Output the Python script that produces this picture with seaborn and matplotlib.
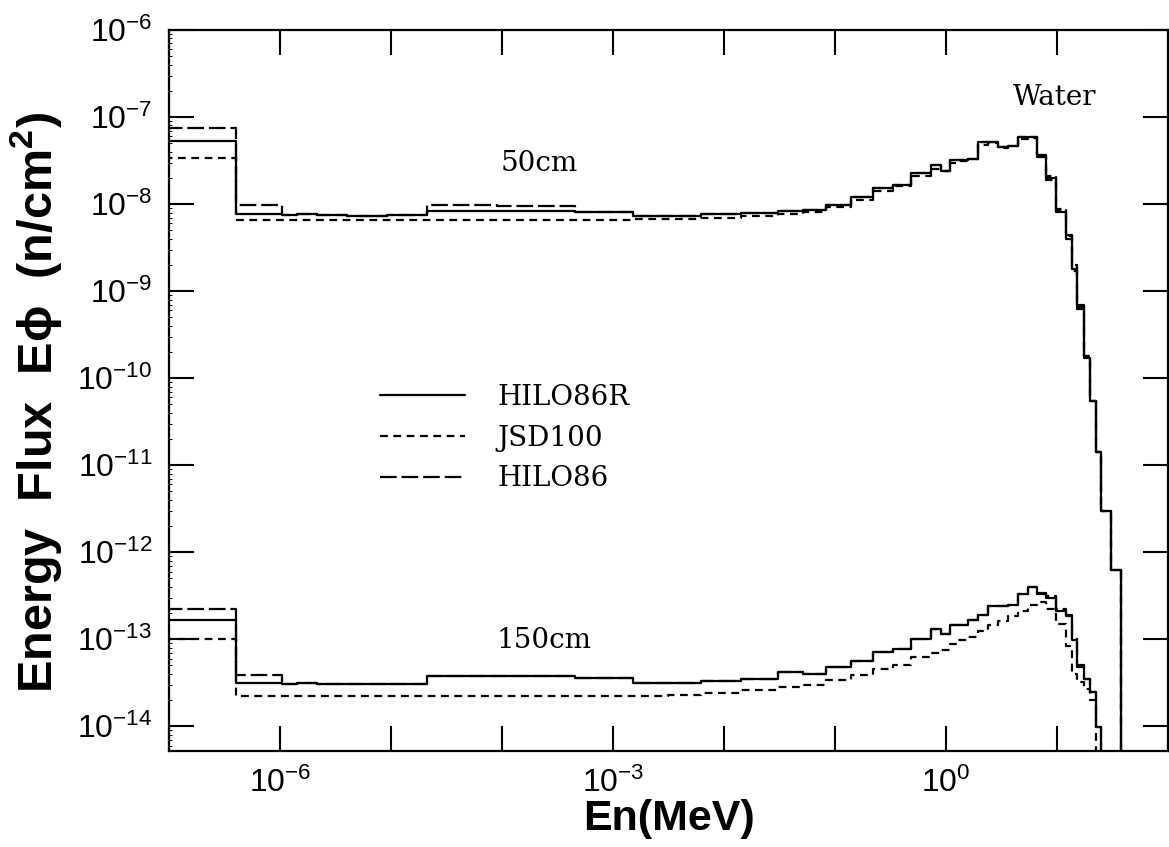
import numpy as np
import pandas as pd
import matplotlib
matplotlib.use("Agg")
import matplotlib.pyplot as plt
from matplotlib.lines import Line2D
from matplotlib.ticker import FixedLocator, FixedFormatter, LogLocator, NullFormatter
import seaborn as sns

# Energy group boundaries (MeV)
edges = [1e-8, 4.0e-7, 1.04e-6, 1.42e-6, 2.15e-6, 4.0e-6, 9.2e-6, 2.11e-5, 9.1e-5,
         4.5e-4, 1.5e-3, 3.1e-3, 6.15e-3, 1.41e-2, 3.05e-2, 5.12e-2, 8.26e-2,
         0.139, 0.219, 0.332, 0.483, 0.733, 0.901, 1.09, 1.28, 1.58, 1.94, 2.39,
         2.95, 3.63, 4.47, 5.50, 6.63, 8.0, 9.84, 12.1, 13.7, 15.2, 17.6, 19.9,
         22.6, 25.1, 27.8, 30.8, 37.5, 41.0]

# Group-wise energy flux at 50 cm depth in water (n/cm^2)
hilo86r_50 = [5.3e-8, 7.6e-9, 7.5e-9, 7.7e-9, 7.4e-9, 7.3e-9, 7.4e-9, 8.3e-9, 8.3e-9,
              8.1e-9, 7.2e-9, 7.2e-9, 7.6e-9, 7.9e-9, 8.3e-9, 8.6e-9, 9.75e-9,
              1.22e-8, 1.52e-8, 1.65e-8, 2.25e-8, 2.8e-8, 2.37e-8, 3.2e-8, 3.2e-8,
              3.3e-8, 5.2e-8, 5.2e-8, 4.55e-8, 4.6e-8, 5.9e-8, 5.9e-8, 3.5e-8,
              1.97e-8, 8.1e-9, 4.0e-9, 1.8e-9, 6.3e-10, 1.7e-10, 5.4e-11, 1.4e-11,
              3.0e-12, 3.0e-12, 6.2e-13, 0.0]
jsd100_50 = [3.4e-8, 6.6e-9, 6.6e-9, 6.6e-9, 6.6e-9, 6.6e-9, 6.6e-9, 6.6e-9, 6.6e-9,
             6.6e-9, 6.7e-9, 6.8e-9, 7.0e-9, 7.3e-9, 7.7e-9, 8.2e-9, 9.2e-9,
             1.1e-8, 1.4e-8, 1.6e-8, 2.1e-8, 2.5e-8, 2.4e-8, 3.0e-8, 3.1e-8,
             3.3e-8, 4.8e-8, 5.0e-8, 4.4e-8, 4.6e-8, 5.6e-8, 5.8e-8, 3.6e-8,
             1.9e-8, 8.3e-9, 4.3e-9, 1.7e-9, 6.6e-10, 1.8e-10, 5.4e-11, 1.4e-11,
             3.0e-12, 3.0e-12, 6.2e-13, 0.0]
hilo86_50 = [7.5e-8, 9.8e-9, 7.5e-9, 7.7e-9, 7.4e-9, 7.3e-9, 7.4e-9, 9.75e-9, 9.6e-9,
             8.1e-9, 7.2e-9, 7.2e-9, 7.6e-9, 7.9e-9, 8.3e-9, 8.6e-9, 9.75e-9,
             1.22e-8, 1.52e-8, 1.65e-8, 2.25e-8, 2.8e-8, 2.37e-8, 3.2e-8, 3.2e-8,
             3.3e-8, 5.2e-8, 5.2e-8, 4.55e-8, 4.6e-8, 5.9e-8, 5.9e-8, 3.7e-8,
             2.1e-8, 8.8e-9, 4.4e-9, 2.0e-9, 7.0e-10, 1.8e-10, 5.4e-11, 1.4e-11,
             3.0e-12, 3.0e-12, 6.2e-13, 0.0]

# Group-wise energy flux at 150 cm depth in water (n/cm^2)
hilo86r_150 = [1.66e-13, 3.12e-14, 3.1e-14, 3.15e-14, 3.1e-14, 3.1e-14, 3.1e-14, 3.76e-14,
               3.76e-14, 3.56e-14, 3.12e-14, 3.12e-14, 3.3e-14, 3.5e-14, 4.2e-14, 3.96e-14,
               4.77e-14, 5.6e-14, 7.1e-14, 7.7e-14, 1.0e-13, 1.3e-13, 1.14e-13, 1.45e-13,
               1.45e-13, 1.65e-13, 1.9e-13, 2.4e-13, 2.4e-13, 2.5e-13, 3.3e-13, 3.96e-13,
               3.3e-13, 3.0e-13, 2.1e-13, 1.84e-13, 9.9e-14, 4.8e-14, 3.5e-14, 2.46e-14,
               9.75e-15, 0.0, 0.0, 0.0, 0.0]
jsd100_150 = [1.0e-13, 2.2e-14, 2.2e-14, 2.2e-14, 2.2e-14, 2.2e-14, 2.2e-14, 2.2e-14,
              2.2e-14, 2.2e-14, 2.25e-14, 2.3e-14, 2.4e-14, 2.6e-14, 2.8e-14, 3.0e-14,
              3.4e-14, 3.9e-14, 4.5e-14, 5.1e-14, 6.2e-14, 7.0e-14, 7.6e-14, 8.8e-14,
              9.7e-14, 1.07e-13, 1.25e-13, 1.45e-13, 1.6e-13, 1.85e-13, 2.1e-13, 2.5e-13,
              2.7e-13, 2.2e-13, 1.5e-13, 8.3e-14, 4.0e-14, 3.2e-14, 2.7e-14, 2.0e-14,
              0.0, 0.0, 0.0, 0.0, 0.0]
hilo86_150 = [2.21e-13, 3.86e-14, 3.1e-14, 3.15e-14, 3.1e-14, 3.1e-14, 3.1e-14, 3.8e-14,
              3.8e-14, 3.56e-14, 3.12e-14, 3.12e-14, 3.3e-14, 3.5e-14, 4.2e-14, 3.96e-14,
              4.77e-14, 5.6e-14, 7.1e-14, 7.7e-14, 1.0e-13, 1.3e-13, 1.14e-13, 1.45e-13,
              1.45e-13, 1.65e-13, 1.9e-13, 2.4e-13, 2.4e-13, 2.5e-13, 3.3e-13, 3.96e-13,
              3.4e-13, 3.1e-13, 2.2e-13, 1.9e-13, 1.0e-13, 5.0e-14, 3.5e-14, 2.46e-14,
              9.75e-15, 0.0, 0.0, 0.0, 0.0]

codes = ["HILO86R", "JSD100", "HILO86"]
depth_labels = ["50cm", "150cm"]
series = {
    ("50cm", "HILO86R"): hilo86r_50,
    ("50cm", "JSD100"): jsd100_50,
    ("50cm", "HILO86"): hilo86_50,
    ("150cm", "HILO86R"): hilo86r_150,
    ("150cm", "JSD100"): jsd100_150,
    ("150cm", "HILO86"): hilo86_150,
}

# long-form table of step vertices (steps-post: one point per lower edge + closing edge);
# empty groups are pushed far below the axis so the curve drops off the plot
rows = []
for (depth, code), vals in series.items():
    ys = list(vals) + [vals[-1]]
    for e, v in zip(edges, ys):
        rows.append({"energy": e, "flux": v if v > 0 else 1e-30,
                     "depth": depth, "code": code})
df = pd.DataFrame(rows)

sns.set_theme(style="ticks")
plt.rcParams.update({
    "font.family": ["Liberation Sans", "DejaVu Sans"],
    "mathtext.fontset": "custom",
    "mathtext.rm": "Liberation Sans",
    "mathtext.it": "Liberation Sans:italic",
    "mathtext.bf": "Liberation Sans:bold",
    "axes.linewidth": 1.6,
    "axes.edgecolor": "black",
    "axes.labelcolor": "black",
    "text.color": "black",
    "xtick.color": "black",
    "ytick.color": "black",
})

line_styles = {
    "HILO86R": "-",
    "JSD100": (0, (3.5, 2.5)),
    "HILO86": (0, (7.5, 2.2)),
}

fig = plt.figure(figsize=(11.69, 8.47), dpi=100)
ax = fig.add_axes([169 / 1169, 1 - 751 / 847, (1168 - 169) / 1169, (751 - 30) / 847])
ax.set_xscale("log")
ax.set_yscale("log")

for depth in depth_labels:
    for code in ["JSD100", "HILO86", "HILO86R"]:
        sub = df[(df["depth"] == depth) & (df["code"] == code)]
        sns.lineplot(data=sub, x="energy", y="flux", ax=ax, estimator=None, sort=False,
                     drawstyle="steps-post", color="black", linewidth=1.6,
                     linestyle=line_styles[code], legend=False)

ax.set_xlim(1e-7, 1e2)
ax.set_ylim(5.2e-15, 1e-6)

# ticks: every decade, inward, on all four sides
xdec = list(range(-7, 3))
ax.xaxis.set_major_locator(FixedLocator([10.0 ** k for k in xdec]))
ax.xaxis.set_major_formatter(FixedFormatter(
    [r"$\mathregular{10^{%d}}$" % k if k in (-6, -3, 0) else "" for k in xdec]))
ax.xaxis.set_minor_locator(FixedLocator([]))
ydec = list(range(-14, -5))
ax.yaxis.set_major_locator(FixedLocator([10.0 ** k for k in ydec]))
ax.yaxis.set_major_formatter(FixedFormatter([r"$\mathregular{10^{%d}}$" % k for k in ydec]))
ax.yaxis.set_minor_locator(LogLocator(base=10, subs=np.arange(2, 10), numticks=30))
ax.yaxis.set_minor_formatter(NullFormatter())
ax.tick_params(axis="both", which="major", direction="in", length=18, width=1.5,
               top=True, right=True, labelsize=23, pad=12)
ax.tick_params(axis="y", which="minor", direction="in", length=2, width=0.7,
               left=True, right=False)

ax.set_xlabel("En(MeV)", fontsize=31, fontweight="bold", va="top")
ax.xaxis.set_label_coords(0.5, -0.066)
ax.set_ylabel("Energy  Flux  E$\\mathregular{\\phi}$  (n/cm$\\mathbf{^2}$)",
              fontsize=35, fontweight="bold")
ax.yaxis.set_label_coords(-0.105, 0.484)

serif = {"family": "DejaVu Serif", "size": 20}
ax.text(0.887, 0.907, "Water", transform=ax.transAxes, ha="center", va="center", **serif)
ax.text(0.371, 0.815, "50cm", transform=ax.transAxes, ha="center", va="center", **serif)
ax.text(0.375, 0.153, "150cm", transform=ax.transAxes, ha="center", va="center", **serif)

handles = [Line2D([], [], color="black", linewidth=1.6, linestyle=line_styles[c]) for c in codes]
ax.legend(handles, codes, loc="center left", bbox_to_anchor=(0.211, 0.434), frameon=False,
          prop=serif, handlelength=3.05, handletextpad=1.2, labelspacing=0.5,
          borderpad=0, borderaxespad=0)

for s in ax.spines.values():
    s.set_linewidth(1.6)

fig.savefig("out.png", dpi=100, facecolor="white")
